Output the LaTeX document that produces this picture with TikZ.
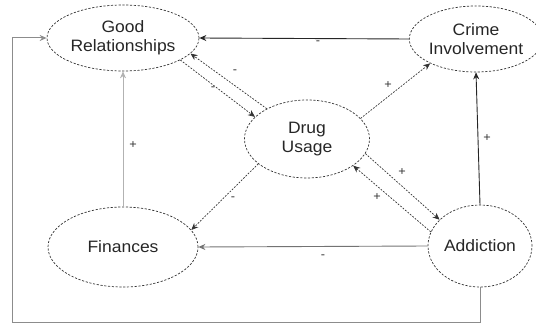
\documentclass[tikz,border=0pt]{standalone}
\usepackage{fontspec}
\setmainfont{Liberation Sans}[FakeStretch=1.06]
\usetikzlibrary{shapes.geometric,arrows.meta}
\begin{document}
\begin{tikzpicture}[x=1pt,y=-1pt,
  state/.style={ellipse,draw=black!80,line width=0.7pt,dash pattern=on 2.2pt off 1.6pt,inner sep=0pt,
     font=\fontsize{16.5}{19}\selectfont,align=center,text=black!85},
  dotline/.style={draw=black!80,line width=0.7pt,dash pattern=on 1.8pt off 1.4pt,-{Stealth[length=7pt,width=6pt]}},
  solidline/.style={line width=0.9pt,-{Stealth[length=7pt,width=6pt]}},
  lbl/.style={font=\fontsize{12}{12}\selectfont,text=black!80,inner sep=0pt}]
\useasboundingbox (0,0) rectangle (536,326);
\node[state,minimum width=152pt,minimum height=66pt] (good) at (123,38) {Good\\Relationships};
\node[state,minimum width=120pt,minimum height=66pt] (crime) at (476,39) {Crime\\Involvement};
\node[state,minimum width=125pt,minimum height=78pt] (drug) at (307,139) {Drug\\Usage};
\node[state,minimum width=150pt,minimum height=80pt] (fin) at (123,247) {Finances};
\node[state,minimum width=104pt,minimum height=82pt] (add) at (480,246) {Addiction};
% solid connectors
\draw[solidline,draw=black!85] (crime.west) -- (good.east);
\draw[solidline,draw=black!85] (add.north) -- (crime.south);
\draw[solidline,draw=black!55] (add.west) -- (fin.east);
\draw[solidline,draw=black!30,line width=0.7pt] (fin.north) -- (good.south);
\coordinate (bl) at (12,322);
\draw[solidline,draw=black!45,line width=1pt] (add.south) |- (bl) |- (good.west);
% dotted connectors
\draw[dotline] (drug.143) -- (good.-13);
\draw[dotline] (good.-21) -- (drug.157);
\draw[dotline] (drug.21) -- (crime.-152);
\draw[dotline] (drug.-153) -- (fin.14);
\draw[dotline] (drug.-14) -- (add.147);
\draw[dotline] (add.164) -- (drug.-30);
% labels
\node[lbl] (l1) at (318,43) {-};
\node[lbl] (l2) at (235,72) {-};
\node[lbl] (l3) at (213,89) {-};
\node[lbl] (l4) at (388,85) {+};
\node[lbl] (l5) at (487,138) {+};
\node[lbl] (l6) at (133,145) {+};
\node[lbl] (l7) at (233,199) {-};
\node[lbl] (l8) at (402,172) {+};
\node[lbl] (l9) at (377,197) {+};
\node[lbl] (l10) at (323,257) {-};
\end{tikzpicture}
\end{document}
